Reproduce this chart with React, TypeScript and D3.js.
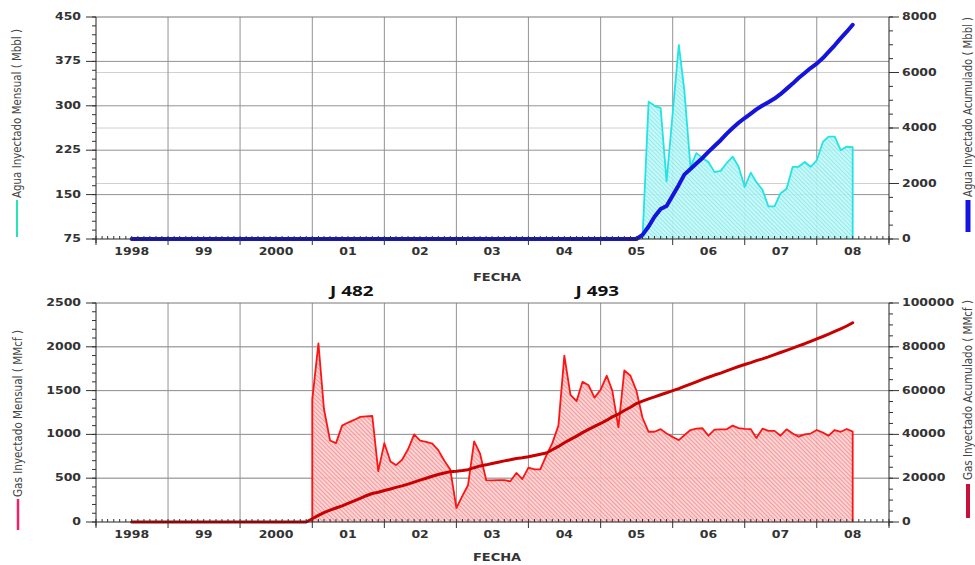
import React from 'react'
import * as d3 from 'd3'

const parseMonth = d3.timeParse('%Y-%m')
const parseDay = d3.timeParse('%Y-%m-%d')

// shared time axis
const xStart = '1998-01'
const xEnd = '2009-01'
const yearLabels = ['1998', '99', '2000', '01', '02', '03', '04', '05', '06', '07', '08']
const cumZeroFrom = '1998-07'

// upper panel: water injection
const waterTicks = [75, 150, 225, 300, 375, 450]
const waterCumTicks = [0, 2000, 4000, 6000, 8000]
const waterStart = '2005-08'
const waterMonthly = [
  75, 307, 300, 296, 172, 288, 403, 326, 197, 220, 212, 205, 188, 190, 203, 214, 197, 163,
  187, 171, 158, 130, 130, 152, 160, 197, 197, 205, 197, 208, 239, 248, 248, 225, 231, 230,
]
const waterCumStart = '2005-07'
const waterCumulative = [
  0, 150, 450, 800, 1080, 1190, 1570, 1950, 2320, 2520, 2720, 2920, 3140, 3350, 3560, 3790,
  4000, 4190, 4360, 4520, 4670, 4810, 4930, 5060, 5220, 5410, 5600, 5800, 5980, 6160, 6320,
  6520, 6740, 6980, 7230, 7470, 7720,
]

// lower panel: gas injection
const gasTicks = [0, 500, 1000, 1500, 2000, 2500]
const gasCumTicks = [0, 20000, 40000, 60000, 80000, 100000]
const gasStart = '2001-01'
const gasMonthly = [
  1400, 2040, 1290, 930, 900, 1100, 1135, 1165, 1200, 1205, 1210, 580,
  900, 690, 650, 710, 830, 1000, 930, 915, 895, 820, 700, 600,
  160, 300, 420, 920, 780, 479, 475, 478, 478, 465, 560, 490,
  620, 600, 600, 760, 900, 1100, 1900, 1450, 1380, 1600, 1560, 1420,
  1510, 1670, 1500, 1080, 1730, 1670, 1500, 1190, 1030, 1030, 1060, 1010,
  970, 935, 990, 1050, 1065, 1070, 985, 1055, 1058, 1058, 1100, 1072,
  1064, 1060, 960, 1065, 1040, 1040, 985, 1058, 1010, 975, 1000, 1010,
  1050, 1020, 985, 1050, 1030, 1062, 1031,
]
const gasCumStart = '2000-12'
const gasCumulative = [
  0, 1500, 3000, 4300, 5400, 6400, 7400, 8500, 9600, 10800, 12000, 13000, 13600,
  14400, 15100, 15800, 16500, 17300, 18200, 19100, 20000, 20900, 21700, 22400, 23000,
  23200, 23500, 23900, 24800, 25600, 26100, 26700, 27300, 27900, 28400, 29000, 29300, 29800, 30400,
  30900, 31500, 33000, 34500, 36200, 37700, 39200, 40800, 42300, 43700, 45000, 46500,
  48000, 49300, 50900, 52400, 54100, 55200, 56200, 57100, 58100, 59000,
  60000, 60900, 61900, 63000, 64000, 65100, 66100, 67100, 68000, 69000, 70000, 71000,
  71900, 72800, 73700, 74500, 75400, 76400, 77400, 78400, 79400, 80400, 81400, 82500,
  83600, 84700, 85800, 87000, 88200, 89500, 91000,
]

const wellNames = ['J 482', 'J 493']
const wellDates = ['2001-07-20', '2004-12-15']

type Pt = { date: Date; v: number }

function series(start: string, values: number[]): Pt[] {
  const s = parseMonth(start) as Date
  return values.map((v, i) => ({ date: d3.timeMonth.offset(s, i), v }))
}

// wide, squat bold text like the scanned original
function Txt({ x, y, children, anchor = 'middle', size = 10, sx = 1.25, fill = '#333' }: any) {
  return (
    <text
      transform={`translate(${x},${y}) scale(${sx},1)`}
      textAnchor={anchor}
      dominantBaseline="central"
      fontFamily="DejaVu Sans"
      fontWeight="bold"
      fontSize={size}
      fill={fill}
    >
      {children}
    </text>
  )
}

function VTitle({ x, y0, y1, text, swatch, swatchY, swatchW }: any) {
  return (
    <g>
      <text
        transform={`translate(${x},${(y0 + y1) / 2}) rotate(-90)`}
        textAnchor="middle"
        dominantBaseline="central"
        fontFamily="'Liberation Sans Narrow', 'DejaVu Sans Condensed', sans-serif"
        fontSize={11.5}
        fill="#444"
        textLength={y1 - y0}
        lengthAdjust="spacingAndGlyphs"
      >
        {text}
      </text>
      <line x1={x} x2={x} y1={swatchY[0]} y2={swatchY[1]} stroke={swatch} strokeWidth={swatchW} />
    </g>
  )
}

function Panel(p: any) {
  const { x, top, bottom } = p
  const [X0, X1] = x.range()
  const yL = d3.scaleLinear().domain(p.leftDomain).range([bottom, top])
  const yR = d3.scaleLinear().domain(p.rightDomain).range([bottom, top])

  const monthly: Pt[] = p.monthly
  const cum: Pt[] = p.cum

  const area = d3.area<Pt>().x(d => x(d.date)).y0(bottom).y1(d => yL(d.v))
  const outlinePts: [number, number][] = [
    [x(monthly[0].date), bottom],
    ...monthly.map(d => [x(d.date), yL(d.v)] as [number, number]),
    [x(monthly[monthly.length - 1].date), bottom],
  ]
  const cumLine = d3.line<Pt>().x(d => x(d.date)).y(d => yR(d.v))

  const years = x.ticks(d3.timeYear.every(1))
  const months = x.ticks(d3.timeMonth.every(1))
  const leftMinor = d3.range(p.leftDomain[0], p.leftDomain[1] + 1e-9, p.leftMinorStep)
  const rightMinor = d3.range(p.rightDomain[0], p.rightDomain[1] + 1e-9, p.rightMinorStep)
  const leftTicks: number[] = p.leftTicks
  const rightTicks: number[] = p.rightTicks

  return (
    <g>
      {/* grid */}
      {rightTicks.slice(1, -1).map(t => (
        <line key={'gr' + t} x1={X0} x2={X1} y1={yR(t)} y2={yR(t)} stroke="#d0d0d0" />
      ))}
      {leftTicks.slice(1, -1).map(t => (
        <line key={'gl' + t} x1={X0} x2={X1} y1={yL(t)} y2={yL(t)} stroke="#939393" />
      ))}
      {years.slice(1, -1).map((d: Date) => (
        <line key={'gv' + d} x1={x(d)} x2={x(d)} y1={top} y2={bottom} stroke="#939393" />
      ))}

      {/* monthly area */}
      <path d={area(monthly) || ''} fill={`url(#${p.fillId})`} fillOpacity={0.92} />
      <path d={d3.line()(outlinePts) || ''} fill="none" stroke={p.lineColor} strokeWidth={1.8} strokeLinejoin="round" />

      {/* cumulative */}
      <path
        d={cumLine(cum) || ''}
        fill="none"
        stroke={p.cumColor}
        strokeWidth={p.cumWidth}
        strokeLinejoin="round"
        strokeLinecap="round"
      />

      {/* frame */}
      <line x1={X0} x2={X1} y1={top} y2={top} stroke="#777" />
      <line x1={X0} x2={X1} y1={bottom} y2={bottom} stroke="#222" />
      <line x1={X0} x2={X0} y1={top} y2={bottom + 4} stroke="#222" />
      <line x1={X1} x2={X1} y1={top} y2={bottom + 4} stroke="#222" />

      {/* x ticks */}
      {months.map((d: Date) => (
        <line key={'mt' + d} x1={x(d)} x2={x(d)} y1={bottom} y2={bottom - 3} stroke="#333" />
      ))}
      {years.map((d: Date) => (
        <line key={'yt' + d} x1={x(d)} x2={x(d)} y1={bottom} y2={bottom + 6} stroke="#333" />
      ))}
      {yearLabels.map((lab, i) => (
        <Txt key={'yl' + lab} x={x(d3.timeMonth.offset(years[i], 6))} y={bottom + 13}>
          {lab}
        </Txt>
      ))}

      {/* left axis */}
      {leftMinor.map(t => (
        <line key={'lm' + t} x1={X0 - 4} x2={X0} y1={yL(t)} y2={yL(t)} stroke="#333" />
      ))}
      {leftTicks.map(t => (
        <g key={'lt' + t}>
          <line x1={X0 - 10} x2={X0} y1={yL(t)} y2={yL(t)} stroke="#333" />
          <Txt x={X0 - 15} y={yL(t)} anchor="end">
            {t}
          </Txt>
        </g>
      ))}

      {/* right axis */}
      {rightMinor.map(t => (
        <line key={'rm' + t} x1={X1} x2={X1 + 4} y1={yR(t)} y2={yR(t)} stroke="#333" />
      ))}
      {rightTicks.map(t => (
        <g key={'rt' + t}>
          <line x1={X1} x2={X1 + 10} y1={yR(t)} y2={yR(t)} stroke="#333" />
          <Txt x={X1 + 13} y={yR(t)} anchor="start">
            {t}
          </Txt>
        </g>
      ))}

      <VTitle {...p.leftTitle} />
      <VTitle {...p.rightTitle} />
    </g>
  )
}

export default function App() {
  const x = d3
    .scaleTime()
    .domain([parseMonth(xStart) as Date, parseMonth(xEnd) as Date])
    .range([96, 889])

  const zero = parseMonth(cumZeroFrom) as Date
  const waterM = series(waterStart, waterMonthly)
  const waterC = [{ date: zero, v: 0 }, ...series(waterCumStart, waterCumulative)]
  const gasM = series(gasStart, gasMonthly)
  const gasC = [{ date: zero, v: 0 }, ...series(gasCumStart, gasCumulative)]

  return (
    <div style={{ position: 'absolute', left: 0, top: 0 }}>
      <svg width={975} height={565} style={{ display: 'block', background: '#fff' }}>
        <defs>
          <pattern id="hatchCyan" width={3} height={3} patternUnits="userSpaceOnUse" patternTransform="rotate(-45)">
            <rect width={3} height={3} fill="#c6f7f7" />
            <line x1={0} y1={0} x2={0} y2={3} stroke="#74e6e8" strokeWidth={1.5} />
          </pattern>
          <pattern id="hatchRed" width={3} height={3} patternUnits="userSpaceOnUse" patternTransform="rotate(-45)">
            <rect width={3} height={3} fill="#fcd0d0" />
            <line x1={0} y1={0} x2={0} y2={3} stroke="#ef7c82" strokeWidth={1.5} />
          </pattern>
        </defs>

        <Panel
          x={x}
          top={17}
          bottom={239}
          leftDomain={[75, 450]}
          leftTicks={waterTicks}
          leftMinorStep={15}
          rightDomain={[0, 8000]}
          rightTicks={waterCumTicks}
          rightMinorStep={500}
          monthly={waterM}
          cum={waterC}
          fillId="hatchCyan"
          lineColor="#22e4e4"
          cumColor="#1414dc"
          cumWidth={4}
          leftTitle={{ x: 17, y0: 29, y1: 198, text: 'Agua Inyectado Mensual ( Mbbl )', swatch: '#22e6b4', swatchY: [200, 237], swatchW: 2 }}
          rightTitle={{ x: 968, y0: 17, y1: 197, text: 'Agua Inyectado Acumulado ( Mbbl )', swatch: '#1414e6', swatchY: [200, 232], swatchW: 5 }}
        />
        <Txt x={497} y={278} sx={1.3}>FECHA</Txt>

        {wellNames.map((n, i) => (
          <text
            key={n}
            transform={`translate(${x(parseDay(wellDates[i]) as Date)},${291}) scale(1.35,1)`}
            textAnchor="middle"
            dominantBaseline="central"
            fontFamily="'Noto Sans', sans-serif"
            fontWeight="bold"
            fontSize={14}
            fill="#111"
          >
            {n}
          </text>
        ))}

        <Panel
          x={x}
          top={303}
          bottom={522}
          leftDomain={[0, 2500]}
          leftTicks={gasTicks}
          leftMinorStep={100}
          rightDomain={[0, 100000]}
          rightTicks={gasCumTicks}
          rightMinorStep={5000}
          monthly={gasM}
          cum={gasC}
          fillId="hatchRed"
          lineColor="#ff1414"
          cumColor="#c80000"
          cumWidth={3}
          leftTitle={{ x: 18, y0: 330, y1: 497, text: 'Gas Inyectado Mensual ( MMcf )', swatch: '#f0206a', swatchY: [499, 530], swatchW: 2.5 }}
          rightTitle={{ x: 968, y0: 300, y1: 480, text: 'Gas Inyectado Acumulado ( MMcf )', swatch: '#c8103c', swatchY: [484, 518], swatchW: 4 }}
        />
        <Txt x={497} y={558} sx={1.3}>FECHA</Txt>
      </svg>
    </div>
  )
}
